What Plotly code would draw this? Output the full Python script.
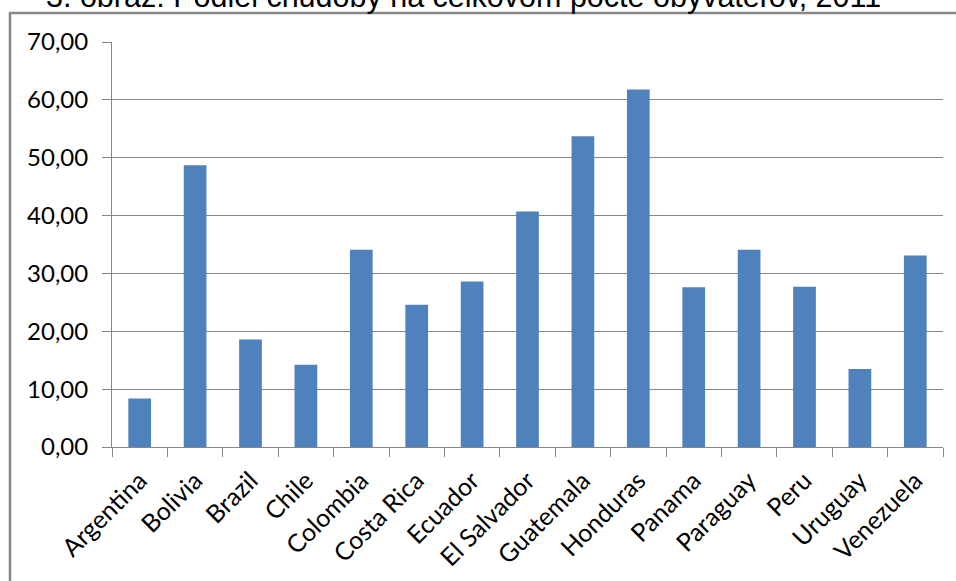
import plotly.graph_objects as go

countries = ["Argentina", "Bolivia", "Brazil", "Chile", "Colombia", "Costa Rica",
             "Ecuador", "El Salvador", "Guatemala", "Honduras", "Panama",
             "Paraguay", "Peru", "Uruguay", "Venezuela"]
poverty_share = [8.4, 48.7, 18.6, 14.2, 34.1, 24.6, 28.6, 40.7, 53.7, 61.8,
                 27.6, 34.1, 27.7, 13.5, 33.1]
y_ticks = [0, 10, 20, 30, 40, 50, 60, 70]
title_text = "3. obraz: Podiel chudoby na celkovom počte obyvateľov, 2011"

W, H = 956, 581
ML, MR, MT, MB = 112, 13, 42, 134
pw = W - ML - MR
ph = H - MT - MB

def px_x(p):
    return (p - ML) / pw

def px_y(p):
    return (H - MB - p) / ph

grid = "#868686"

fig = go.Figure(go.Bar(
    x=countries, y=poverty_share,
    marker=dict(color="#4F81BD", line=dict(width=0)),
))

fig.update_layout(
    width=W, height=H,
    margin=dict(l=ML, r=MR, t=MT, b=MB, pad=0, autoexpand=False),
    paper_bgcolor="white", plot_bgcolor="white",
    bargap=0.59,
    separators=", ",
    showlegend=False,
    font=dict(family="Lato", color="black"),
)
fig.update_xaxes(
    automargin=False,
    showgrid=False, showline=True, linecolor=grid, linewidth=1,
    ticks="outside", tickson="boundaries", ticklen=9, tickcolor=grid, tickwidth=1,
    tickangle=-45, ticklabelstandoff=8,
    tickfont=dict(family="Lato", size=25, color="black"),
    range=[-0.5, len(countries) - 0.5],
)
fig.update_yaxes(
    automargin=False,
    range=[0, 70], tickvals=y_ticks, tickformat=".2f",
    showgrid=True, gridcolor=grid, gridwidth=1,
    showline=True, linecolor=grid, linewidth=1,
    ticks="outside", ticklen=9, tickcolor=grid, tickwidth=1,
    ticklabelstandoff=9,
    tickfont=dict(family="Lato", size=24, color="black"),
    zeroline=False,
)

# outer chart-area border (extends past the right and bottom edges)
fig.add_shape(type="rect", xref="paper", yref="paper",
              x0=px_x(10), x1=px_x(W + 10), y0=px_y(H + 10), y1=px_y(13),
              line=dict(color="#888888", width=2.5), fillcolor="rgba(0,0,0,0)",
              layer="below")

fig.add_annotation(
    text=title_text, xref="paper", yref="paper",
    x=px_x(463.5), y=1, xanchor="center", yanchor="bottom", yshift=26,
    showarrow=False,
    font=dict(family="Liberation Sans", size=30.5, color="black"),
)

fig.write_html("out.html", config={"displayModeBar": False},
               post_script="document.body.style.margin='0px';")
